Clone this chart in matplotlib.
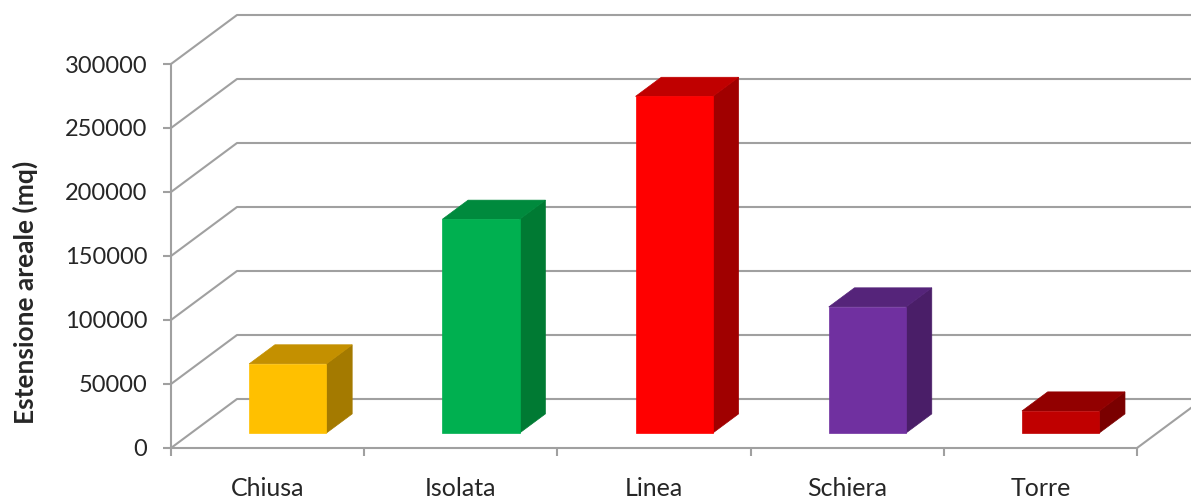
import matplotlib
matplotlib.use("Agg")
import matplotlib.pyplot as plt
from matplotlib.patches import Polygon

categories = ["Chiusa", "Isolata", "Linea", "Schiera", "Torre"]
values = [54000, 167000, 263000, 98500, 17200]
front_colors = ["#FFC000", "#00B050", "#FF0000", "#7030A0", "#C00000"]
top_colors = ["#C49000", "#008A3D", "#C00000", "#55247A", "#920000"]
side_colors = ["#A47A00", "#007A33", "#A00000", "#4A1E68", "#7A0000"]
yticks = [0, 50000, 100000, 150000, 200000, 250000, 300000]

plt.rcParams['font.family'] = ['Lato', 'DejaVu Sans']

W, H = 1191, 500
fig = plt.figure(figsize=(W / 100, H / 100), dpi=100)
ax = fig.add_axes([171 / W, (H - 448) / H, (1137 - 171) / W, (448 - 64) / H])
ax.set_xlim(0, len(categories))
ax.set_ylim(0, 300000)

# depth vector in data units (full depth of the floor)
DX = 66 / 193.2
DY = 49 / 64 * 50000


def proj(x, v, d):
    return (x + d * DX, v + d * DY)


grid_c = "#A0A0A0"
lw = 1.5
n = len(categories)
# back wall gridlines + side-wall diagonals
for v in yticks:
    pts = [proj(0, v, 0), proj(0, v, 1), proj(n, v, 1)]
    xs, ys = zip(*pts)
    ax.plot(xs, ys, color=grid_c, lw=lw, clip_on=False, zorder=1,
            solid_capstyle='butt')
# floor right edge
xs, ys = zip(proj(n, 0, 0), proj(n, 0, 1))
ax.plot(xs, ys, color=grid_c, lw=lw, clip_on=False, zorder=1)

# bars
d0 = 0.306
bd = 0.39
bw = 0.4
for i, (val, fc, tc, sc) in enumerate(zip(values, front_colors, top_colors, side_colors)):
    x0 = i + 0.5 - bw / 2
    x1 = i + 0.5 + bw / 2
    front = [proj(x0, 0, d0), proj(x1, 0, d0), proj(x1, val, d0), proj(x0, val, d0)]
    top = [proj(x0, val, d0), proj(x1, val, d0), proj(x1, val, d0 + bd), proj(x0, val, d0 + bd)]
    side = [proj(x1, 0, d0), proj(x1, 0, d0 + bd), proj(x1, val, d0 + bd), proj(x1, val, d0)]
    for poly, col in ((side, sc), (top, tc), (front, fc)):
        ax.add_patch(Polygon(poly, closed=True, facecolor=col, edgecolor=col,
                             lw=0.5, zorder=3, clip_on=False))

# axes styling
for s in ("top", "right"):
    ax.spines[s].set_visible(False)
for s in ("left", "bottom"):
    ax.spines[s].set_color(grid_c)
    ax.spines[s].set_linewidth(lw)
    ax.spines[s].set_zorder(2)

ax.set_yticks(yticks)
ax.set_yticklabels([str(v) for v in yticks])
ax.set_xticks(range(n + 1))
ax.set_xticklabels([])
ax.set_xticks([i + 0.5 for i in range(n)], minor=True)
ax.set_xticklabels(categories, minor=True)
ax.tick_params(axis='x', which='major', direction='out', length=6, width=lw, color=grid_c)
ax.tick_params(axis='x', which='minor', length=0, pad=21, labelsize=18, labelcolor="#262626")
ax.tick_params(axis='y', direction='out', length=6, width=lw, color=grid_c,
               labelsize=17, labelcolor="#262626", pad=11)
fig.text(25 / W, 1 - 292 / H, "Estensione areale (mq)", rotation=90, ha='center',
         va='center', fontsize=19, fontweight='bold', color="#262626")
ax.patch.set_alpha(0)

fig.savefig("out.png", dpi=100, facecolor="white")
